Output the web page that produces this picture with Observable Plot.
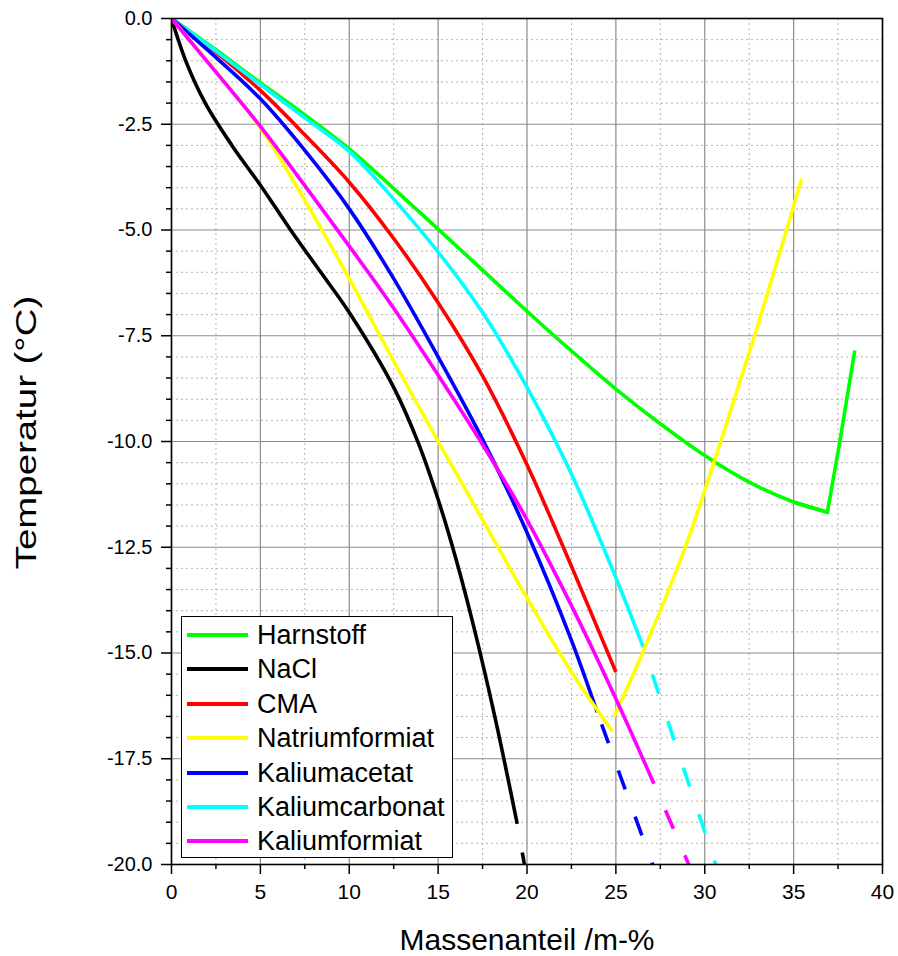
<!DOCTYPE html>
<html>
<head>
<meta charset="utf-8">
<script src="https://cdn.jsdelivr.net/npm/d3@7"></script>
<script src="https://cdn.jsdelivr.net/npm/@observablehq/plot@0.6"></script>
<style>
  html, body { margin: 0; padding: 0; background: #fff; }
  #wrap { position: relative; width: 898px; height: 956px; font-family: "Liberation Sans", Arial, sans-serif; }
  #legend { position: absolute; left: 181px; top: 616px; width: 272px; height: 242px; border: 1.5px solid #000; background: #fff; box-sizing: border-box; }
  .item { position: absolute; left: 0; height: 34px; display: flex; align-items: center; }
  .swatch { display: inline-block; width: 61px; height: 4px; margin-left: 5px; margin-right: 9px; }
  .lab { font-size: 27px; color: #000; line-height: 34px; }
</style>
</head>
<body>
<div id="wrap"><div id="legend"></div></div>
<script>
// ---- categories ----
const seriesNames = ["Harnstoff", "NaCl", "CMA", "Natriumformiat", "Kaliumacetat", "Kaliumcarbonat", "Kaliumformiat"];

// ---- series values (Massenanteil in m-%, Temperatur in °C) ----
const harnstoffX = [0, 2.5, 5, 7.5, 10, 12.5, 15, 17.5, 20, 22.5, 25, 27.5, 30, 32.5, 35, 36.9];
const harnstoffY = [0, -0.74, -1.52, -2.28, -3.08, -4.02, -4.98, -5.95, -6.92, -7.86, -8.76, -9.58, -10.33, -10.96, -11.43, -11.67];
const harnstoffRiseX = [35, 36.9, 37.6, 38.44];
const harnstoffRiseY = [-11.43, -11.67, -10.0, -7.85];

const naclX = [0, 0.8, 1.9, 3.4, 5.1, 6.7, 8.4, 10, 12.5, 13.9, 15, 16, 17, 18.23, 19.45];
const naclY = [0, -1, -2, -3, -4, -5, -6, -6.95, -8.72, -10.05, -11.37, -12.77, -14.37, -16.58, -19.04];
const naclDashX = [19.45, 19.98];
const naclDashY = [-19.04, -20.3];

const cmaX = [0, 2.5, 5, 7.5, 10, 12.5, 15, 17.5, 20, 22.5, 25];
const cmaY = [0, -0.8, -1.7, -2.75, -3.87, -5.2, -6.72, -8.45, -10.55, -12.95, -15.45];

const natriumformiatX = [0, 2.5, 5, 7.5, 10, 12.5, 15, 17.5, 20, 22.5, 24.8];
const natriumformiatY = [0, -1.25, -2.58, -4.3, -6.15, -8.1, -10.0, -11.85, -13.7, -15.45, -16.85];
const natriumformiatRiseX = [24.9, 26.5, 28.9, 30.9, 32.8, 34.6, 35.45];
const natriumformiatRiseY = [-16.5, -15, -12.5, -10, -7.5, -5, -3.79];

const kaliumacetatX = [0, 2.5, 5, 7.5, 10, 12.5, 15, 17.5, 20, 22.5, 23.95];
const kaliumacetatY = [0, -0.92, -1.9, -3.12, -4.5, -6.15, -8.0, -9.95, -12.15, -14.7, -16.4];
const kaliumacetatDashX = [23.95, 26.49, 27.15];
const kaliumacetatDashY = [-16.4, -19.34, -20.1];

const kaliumcarbonatX = [0, 2.5, 5, 7.5, 10, 12.5, 15, 17.5, 20, 22.5, 25, 26.54];
const kaliumcarbonatY = [0, -0.77, -1.56, -2.35, -3.14, -4.27, -5.52, -6.95, -8.72, -10.77, -13.22, -14.86];
const kaliumcarbonatDashX = [26.54, 30.09, 30.69];
const kaliumcarbonatDashY = [-14.86, -19.34, -20.1];

const kaliumformiatX = [0, 2.5, 5, 7.5, 10, 12.5, 15, 17.5, 20, 22.5, 25, 27.14];
const kaliumformiatY = [0, -1.27, -2.55, -3.95, -5.38, -6.85, -8.43, -10.07, -11.85, -13.88, -16.08, -18.09];
const kaliumformiatDashX = [27.14, 28.46, 29.2];
const kaliumformiatDashY = [-18.09, -19.37, -20.1];

// ---- tick labels ----
const xMajorTicks = [0, 5, 10, 15, 20, 25, 30, 35, 40];
const xMinorTicks = [2.5, 7.5, 12.5, 17.5, 22.5, 27.5, 32.5, 37.5];
const yMajorTicks = [0, -2.5, -5, -7.5, -10, -12.5, -15, -17.5, -20];
const yMinorTicks = [-0.5, -1, -1.5, -2, -3, -3.5, -4, -4.5, -5.5, -6, -6.5, -7, -8, -8.5, -9, -9.5,
                     -10.5, -11, -11.5, -12, -13, -13.5, -14, -14.5, -15.5, -16, -16.5, -17, -18, -18.5, -19, -19.5];
const xTitle = "Massenanteil /m-%";
const yTitle = "Temperatur (°C)";

// ---- styles ----
const seriesColors = {
  "Harnstoff": "#00ff00", "NaCl": "#000000", "CMA": "#ff0000", "Natriumformiat": "#ffff00",
  "Kaliumacetat": "#0000ff", "Kaliumcarbonat": "#00ffff", "Kaliumformiat": "#ff00ff"
};

const rows = (xs, ys) => xs.map((x, i) => ({x, y: ys[i]}));
// [series, data, curve]
const solidParts = [
  ["Harnstoff", rows(harnstoffX, harnstoffY), "catmull-rom"],
  ["Harnstoff", rows(harnstoffRiseX, harnstoffRiseY), "linear"],
  ["NaCl", rows(naclX, naclY), "catmull-rom"],
  ["CMA", rows(cmaX, cmaY), "catmull-rom"],
  ["Kaliumcarbonat", rows(kaliumcarbonatX, kaliumcarbonatY), "catmull-rom"],
  ["Kaliumacetat", rows(kaliumacetatX, kaliumacetatY), "catmull-rom"],
  ["Natriumformiat", rows(natriumformiatX, natriumformiatY), "catmull-rom"],
  ["Natriumformiat", rows(natriumformiatRiseX, natriumformiatRiseY), "catmull-rom"],
  ["Kaliumformiat", rows(kaliumformiatX, kaliumformiatY), "catmull-rom"]
];
// [series, data, dash offset]
const dashedParts = [
  ["NaCl", rows(naclDashX, naclDashY), 20],
  ["Kaliumacetat", rows(kaliumacetatDashX, kaliumacetatDashY), 36],
  ["Kaliumcarbonat", rows(kaliumcarbonatDashX, kaliumcarbonatDashY), 20],
  ["Kaliumformiat", rows(kaliumformiatDashX, kaliumformiatDashY), 20]
];

const lineStyle = {x: "x", y: "y", strokeWidth: 3.6, strokeLinecap: "butt", strokeLinejoin: "miter", strokeMiterlimit: 8, clip: true};

const marks = [
  Plot.gridX(xMinorTicks, {stroke: "#b4b4b4", strokeOpacity: 1, strokeWidth: 1, strokeDasharray: "2,3"}),
  Plot.gridY(yMinorTicks, {stroke: "#b4b4b4", strokeOpacity: 1, strokeWidth: 1, strokeDasharray: "2,3"}),
  Plot.gridX(xMajorTicks, {stroke: "#8c8c8c", strokeOpacity: 1, strokeWidth: 1.2}),
  Plot.gridY(yMajorTicks, {stroke: "#8c8c8c", strokeOpacity: 1, strokeWidth: 1.2})
];
for (const [name, data, curve] of solidParts) {
  marks.push(Plot.line(data, {...lineStyle, curve, stroke: seriesColors[name]}));
}
for (const [name, data, off] of dashedParts) {
  marks.push(Plot.line(data, {...lineStyle, stroke: seriesColors[name], strokeDasharray: "20,29", strokeDashoffset: off}));
}
marks.push(
  Plot.frame({stroke: "#000", strokeWidth: 1.6}),
  Plot.axisX(xMajorTicks, {tickSize: 10, tickPadding: 10, strokeWidth: 1.5, fontSize: 21, tickFormat: d => String(d), label: null}),
  Plot.axisX(xMinorTicks, {tickSize: 5, strokeWidth: 1.5, tickFormat: () => "", label: null}),
  Plot.axisX([], {label: xTitle, labelAnchor: "center", labelArrow: "none", labelOffset: 85, fontSize: 30}),
  Plot.axisY(yMajorTicks, {tickSize: 10, tickPadding: 9, strokeWidth: 1.5, fontSize: 20, tickFormat: d => d.toFixed(1), label: null}),
  Plot.axisY(yMinorTicks, {tickSize: 5, strokeWidth: 1.5, tickFormat: () => "", label: null}),
  Plot.axisY([], {label: yTitle, labelAnchor: "center", labelArrow: "none", labelOffset: 157, fontSize: 30})
);

const chart = Plot.plot({
  width: 898,
  height: 956,
  marginLeft: 171,
  marginRight: 16,
  marginTop: 18,
  marginBottom: 92,
  x: {domain: [0, 40]},
  y: {domain: [-20, 0]},
  style: {fontFamily: "'Liberation Sans', Arial, sans-serif", background: "#fff", color: "#000", overflow: "visible"},
  marks
});
document.getElementById("wrap").prepend(chart);

// the reference's y title is elongated along its length and sits a little above centre
d3.select(chart).selectAll('g[aria-label="y-axis label"] text').each(function () {
  const t = this.getAttribute("transform") || "";
  this.setAttribute("transform", t + " translate(9,0) scale(1.28,1)");
});

// legend (HTML overlay inside the plot area)
const legend = document.getElementById("legend");
seriesNames.forEach((name, i) => {
  const item = document.createElement("div");
  item.className = "item";
  item.style.top = (1 + i * 34.4) + "px";
  const sw = document.createElement("span");
  sw.className = "swatch";
  sw.style.background = seriesColors[name];
  const lab = document.createElement("span");
  lab.className = "lab";
  lab.textContent = name;
  item.append(sw, lab);
  legend.append(item);
});
</script>
</body>
</html>
